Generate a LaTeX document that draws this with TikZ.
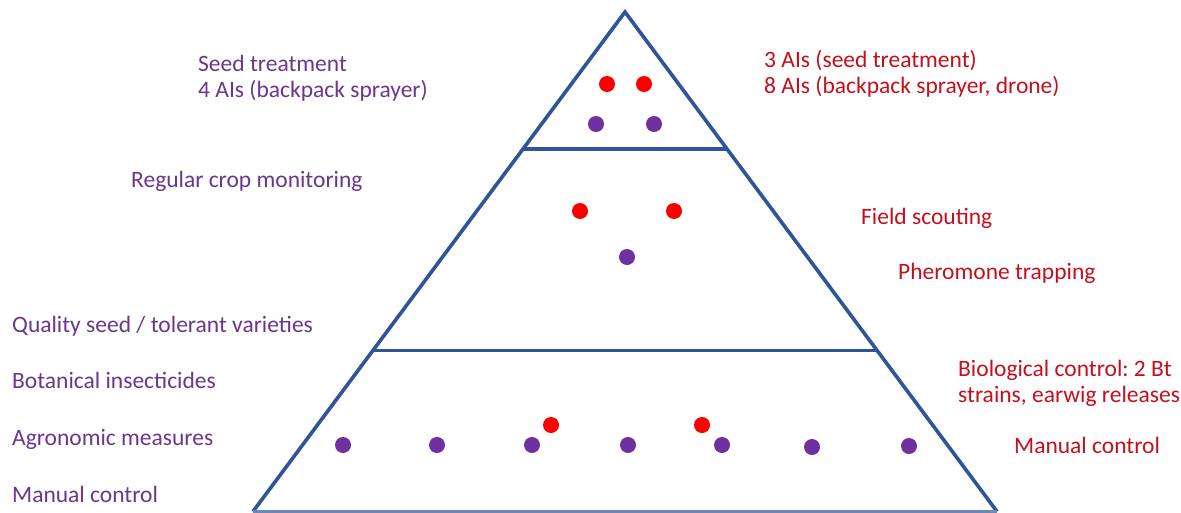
\documentclass[tikz,border=0pt]{standalone}
\usepackage{fontspec}
\setmainfont{Carlito}
\frenchspacing
\usetikzlibrary{calc}
\definecolor{edgeblue}{RGB}{47,85,151}
\definecolor{lefttxt}{RGB}{105,55,140}
\definecolor{righttxt}{RGB}{196,16,30}
\definecolor{dotred}{RGB}{255,0,0}
\definecolor{dotpurple}{RGB}{112,48,160}
\tikzset{
  edge/.style={draw=edgeblue, line width=3.6pt, line join=miter},
  rdot/.style={circle, fill=dotred, minimum size=16pt, inner sep=0pt},
  pdot/.style={circle, fill=dotpurple, minimum size=16pt, inner sep=0pt},
  ltext/.style={anchor=base west, inner sep=0pt, text=lefttxt, font=\fontsize{23.5}{25.5}\selectfont, align=left},
  rtext/.style={anchor=base west, inner sep=0pt, text=righttxt, font=\fontsize{23.5}{25.5}\selectfont, align=left},
}
\begin{document}
\begin{tikzpicture}[x=1pt, y=-1pt]
\useasboundingbox (0,0) rectangle (1181,512);
\fill[white] (0,0) rectangle (1181,512);
% triangle
\coordinate (apex) at (625,12);
\coordinate (bl) at (253,511.5);
\coordinate (br) at (997,511.5);
\coordinate (l1) at ($(apex)!0.2745!(bl)$);
\coordinate (r1) at ($(apex)!0.2745!(br)$);
\coordinate (l2) at ($(apex)!0.6774!(bl)$);
\coordinate (r2) at ($(apex)!0.6774!(br)$);
\draw[edge] (bl) -- (apex) -- (br);
\draw[edge, draw=edgeblue!70] (bl) -- (br);
\draw[edge] (l1) -- (r1);
\draw[edge] (l2) -- (r2);
% dots top tier
\node[rdot] (t1) at (607,84) {};
\node[rdot] (t2) at (644,84) {};
\node[pdot] (t3) at (596,124) {};
\node[pdot] (t4) at (654,124) {};
% dots middle tier
\node[rdot] (m1) at (580,211) {};
\node[rdot] (m2) at (674,211) {};
\node[pdot] (m3) at (627,257) {};
% dots bottom tier
\node[rdot] (b1) at (551,425) {};
\node[rdot] (b2) at (702,425) {};
\node[pdot] (b3) at (343,445) {};
\node[pdot] (b4) at (437,445) {};
\node[pdot] (b5) at (532,445) {};
\node[pdot] (b6) at (628,445) {};
\node[pdot] (b7) at (722,445) {};
\node[pdot] (b8) at (812,447) {};
\node[pdot] (b9) at (909,446) {};
% left texts
\node[ltext] (seed) at (198,97) {Seed treatment\\4 AIs (backpack sprayer)};
\node[ltext] (regular) at (131,187) {Regular crop monitoring};
\node[ltext] (quality) at (12,332) {Quality seed / tolerant varieties};
\node[ltext] (botan) at (12,388) {Botanical insecticides};
\node[ltext] (agro) at (12,445) {Agronomic measures};
\node[ltext] (manl) at (12,502) {Manual control};
% right texts
\node[rtext] (ais) at (764,93) {3 AIs (seed treatment)\\8 AIs (backpack sprayer, drone)};
\node[rtext] (field) at (861,224) {Field scouting};
\node[rtext] (phero) at (898,279) {Pheromone trapping};
\node[rtext] (bio) at (958,402) {Biological control: 2 Bt\\strains, earwig releases};
\node[rtext] (manr) at (1014,453) {Manual control};
\end{tikzpicture}
\end{document}
